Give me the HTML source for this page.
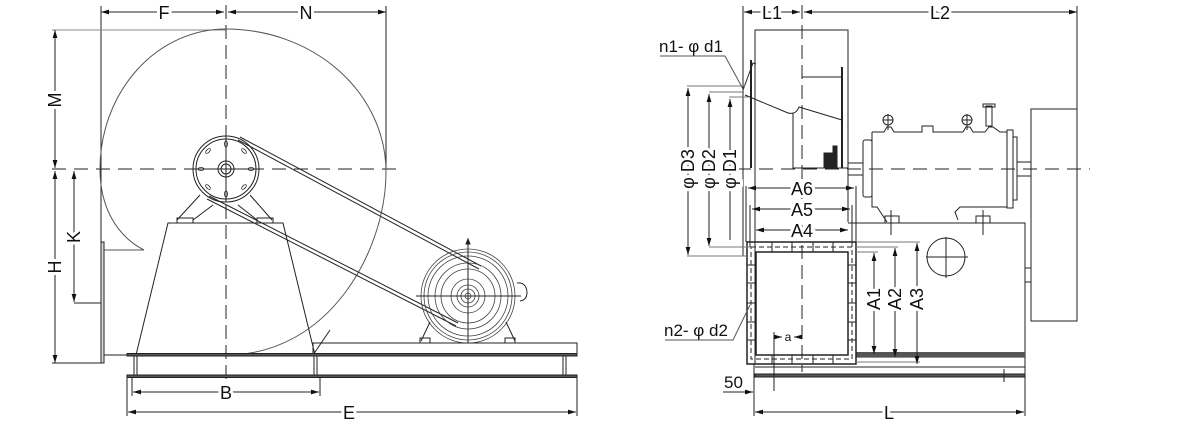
<!DOCTYPE html>
<html><head><meta charset="utf-8"><style>
html,body{margin:0;padding:0;background:#fff}
svg{display:block}
text{font-family:"Liberation Sans",sans-serif;font-size:18px;fill:#111}
</style></head><body>
<svg width="1182" height="442" viewBox="0 0 1182 442" xmlns="http://www.w3.org/2000/svg">
<defs>
<marker id="a" viewBox="0 0 10 6" refX="10" refY="3" markerWidth="8" markerHeight="5" orient="auto-start-reverse" markerUnits="userSpaceOnUse"><path d="M0,0L10,3L0,6z" fill="#111"/></marker>
</defs>
<g stroke="#222" stroke-width="1" fill="none">
<line x1="101" y1="6" x2="101" y2="245"/>
<line x1="386" y1="6" x2="386" y2="168"/>
<line x1="101" y1="12" x2="224" y2="12" marker-start="url(#a)" marker-end="url(#a)"/>
<line x1="228" y1="12" x2="386" y2="12" marker-start="url(#a)" marker-end="url(#a)"/>
<line x1="52" y1="30" x2="226" y2="30" stroke="#888"/>
<line x1="55" y1="30" x2="55" y2="168" marker-start="url(#a)" marker-end="url(#a)"/>
<line x1="55" y1="171" x2="55" y2="363" marker-start="url(#a)" marker-end="url(#a)"/>
<line x1="52" y1="363" x2="101" y2="363"/>
<line x1="74" y1="171" x2="74" y2="302" marker-start="url(#a)" marker-end="url(#a)"/>
<line x1="74" y1="303" x2="101" y2="303"/>
<line x1="52" y1="169" x2="402" y2="169" stroke-dasharray="14,8"/>
<line x1="226" y1="5" x2="226" y2="395" stroke-dasharray="14,6"/>
<path d="M226,29 A160,143 0 0 1 386,172 C386,250 330,355 226,355" stroke="#555"/>
<path d="M226,29 A126,140 0 0 0 100,169 C100,205 115,235 144,250 L104,250" stroke="#555"/>
<line x1="330" y1="330" x2="313" y2="355"/>
<rect x="101" y="242" width="3" height="121" fill="#ddd"/>
<line x1="104" y1="355" x2="127" y2="355"/>
<path d="M168,223 L283,223 L315,355 L136,355 Z"/>
<path d="M200,195 L177,220 M213,205 L193,220 M250,195 L272,220 M238,205 L257,220"/>
<rect x="177" y="218" width="16" height="5"/><rect x="257" y="218" width="16" height="5"/>
<circle cx="226" cy="169" r="33"/><circle cx="226" cy="169" r="30"/>
<circle cx="226" cy="169" r="8"/><circle cx="226" cy="169" r="5"/>
<line x1="226" y1="136" x2="226" y2="202"/><line x1="193" y1="169" x2="259" y2="169"/>
<g stroke-width="0.8">
<ellipse cx="226" cy="144" rx="1.5" ry="3"/><ellipse cx="226" cy="194" rx="1.5" ry="3"/>
<ellipse cx="201" cy="169" rx="3" ry="1.5"/><ellipse cx="251" cy="169" rx="3" ry="1.5"/>
<ellipse cx="208" cy="151" rx="1.5" ry="3" transform="rotate(45 208 151)"/><ellipse cx="244" cy="151" rx="1.5" ry="3" transform="rotate(-45 244 151)"/>
<ellipse cx="208" cy="187" rx="1.5" ry="3" transform="rotate(-45 208 187)"/><ellipse cx="244" cy="187" rx="1.5" ry="3" transform="rotate(45 244 187)"/>
</g>
<line x1="240" y1="137" x2="481" y2="266"/><line x1="238" y1="140" x2="479" y2="269"/>
<line x1="209" y1="196" x2="458" y2="323"/><line x1="207" y1="199" x2="456" y2="326"/>
<g stroke="#444" stroke-width="0.8">
<circle cx="468" cy="296" r="47"/><circle cx="468" cy="296" r="44"/><circle cx="468" cy="296" r="40"/>
<circle cx="468" cy="296" r="33"/><circle cx="468" cy="296" r="27"/><circle cx="468" cy="296" r="17"/>
<circle cx="468" cy="296" r="11"/><circle cx="468" cy="296" r="7"/><circle cx="468" cy="296" r="3"/>
</g>
<line x1="416" y1="296" x2="521" y2="296"/><line x1="468" y1="240" x2="468" y2="343"/>
<path d="M466,244 L468,239 L470,244 Z" fill="#222"/>
<path d="M517,283 Q526,282 527,292 Q527,300 520,301" />
<path d="M430,322 L421,341 M506,322 L515,341"/>
<rect x="420" y="338" width="10" height="5"/><rect x="505" y="338" width="10" height="5"/>
<rect x="313" y="343" width="264" height="11"/>
<rect x="127" y="353.5" width="450" height="2.5" fill="#555"/>
<rect x="134" y="356" width="3" height="20"/><rect x="314" y="356" width="3" height="20"/><rect x="563" y="356" width="3" height="20"/>
<rect x="127" y="375" width="450" height="2.5" fill="#555"/>
<line x1="132" y1="378" x2="132" y2="396"/><line x1="320" y1="378" x2="320" y2="396"/>
<line x1="133" y1="392" x2="319" y2="392" marker-start="url(#a)" marker-end="url(#a)"/>
<line x1="127" y1="378" x2="127" y2="416"/><line x1="577" y1="378" x2="577" y2="416"/>
<line x1="128" y1="412" x2="576" y2="412" marker-start="url(#a)" marker-end="url(#a)"/>

<line x1="743" y1="6" x2="743" y2="256"/>
<line x1="1077" y1="6" x2="1077" y2="109"/>
<line x1="744" y1="12" x2="800" y2="12" marker-start="url(#a)" marker-end="url(#a)"/>
<line x1="804" y1="12" x2="1077" y2="12" marker-start="url(#a)" marker-end="url(#a)"/>
<line x1="802" y1="5" x2="802" y2="372" stroke-dasharray="14,6"/>
<line x1="737" y1="169" x2="1090" y2="169" stroke-dasharray="14,8"/>
<path d="M755,364 L755,30 L848,30 L848,222"/>
<line x1="751" y1="60" x2="751" y2="168" stroke-width="2"/>
<path d="M743,90 L753,63 L756,64"/>
<path d="M745,95 L788,113 Q796,115 799,107 L842,120"/>
<path d="M793,113 L793,168 L848,168 M802,77 L842,77 M842,67 L842,168" />
<line x1="842" y1="67" x2="842" y2="168" stroke-width="2"/>
<rect x="824" y="153" width="10" height="14" fill="#222"/><rect x="833" y="146" width="4" height="21" fill="#222"/>
<path d="M848,163 L863,163 M848,175 L863,175 M1017,162 L1031,162 M1017,176 L1031,176"/>
<path d="M872,132 L884,132 L887,127 L891,127 L894,132 L922,132 L922,126 L933,126 L933,132 L963,132 L966,127 L970,127 L973,132 L985,132 L989,127 L993,127 L1000,132 L1007,132 L1007,207 L960,207 L955,212 L958,220 M872,132 L872,207 L877,207 L887,222"/>
<rect x="863" y="140" width="9" height="57" rx="2"/>
<rect x="1007" y="130" width="6" height="78"/><rect x="1013" y="137" width="4" height="63"/>
<circle cx="888" cy="120" r="5"/><circle cx="967" cy="120" r="5"/>
<path d="M883,120 L893,120 M888,114 L888,130 M962,120 L972,120 M967,114 L967,130"/>
<rect x="986" y="106" width="6" height="20"/><rect x="983" y="104" width="12" height="3"/>
<rect x="885" y="216" width="14" height="7"/><rect x="976" y="216" width="14" height="7"/>
<line x1="891" y1="210" x2="891" y2="235"/><line x1="983" y1="210" x2="983" y2="235"/>
<path d="M848,223 L1025,223 L1025,357 L856,357"/>
<rect x="856" y="352" width="169" height="5" fill="#555" stroke="none"/>
<rect x="1025" y="268" width="6" height="14"/>
<rect x="1031" y="109" width="46" height="212"/>
<circle cx="946" cy="257" r="19"/>
<path d="M926,257 L968,257 M946,237 L946,278"/>
<rect x="747" y="242" width="109" height="122" stroke-width="1.5"/>
<rect x="756" y="252" width="92" height="103" stroke-width="1.5"/>
<rect x="751" y="247" width="101" height="112" stroke-dasharray="5,3"/>
<path d="M772,242 L772,252 M792,242 L792,252 M813,242 L813,252 M833,242 L833,252 M772,355 L772,364 M792,355 L792,364 M813,355 L813,364 M833,355 L833,364 M747,265 L756,265 M747,283 L756,283 M747,303 L756,303 M747,322 L756,322 M747,340 L756,340 M848,265 L856,265 M848,283 L856,283 M848,303 L856,303 M848,322 L856,322 M848,340 L856,340"/>
<line x1="755" y1="367" x2="1025" y2="367"/>
<rect x="755" y="374" width="270" height="3" fill="#555"/>
<path d="M1004,369 L1004,382"/>
<line x1="746" y1="186" x2="746" y2="242"/><line x1="856" y1="186" x2="856" y2="242"/>
<line x1="750" y1="205" x2="750" y2="247"/><line x1="852" y1="205" x2="852" y2="247"/>
<line x1="748" y1="188" x2="854" y2="188" marker-start="url(#a)" marker-end="url(#a)"/>
<line x1="752" y1="209" x2="850" y2="209" marker-start="url(#a)" marker-end="url(#a)"/>
<line x1="756" y1="230" x2="848" y2="230" marker-start="url(#a)" marker-end="url(#a)"/>
<path d="M687,86 L745,86 M709,92 L744,92 M729,97 L748,97" stroke="#777"/>
<path d="M687,256 L746,256 M709,247 L750,247" stroke="#777"/>
<line x1="688" y1="255" x2="688" y2="88" marker-end="url(#a)" marker-start="url(#a)"/>
<line x1="709" y1="246" x2="709" y2="94" marker-end="url(#a)" marker-start="url(#a)"/>
<line x1="730" y1="240" x2="730" y2="99" marker-end="url(#a)"/>
<path d="M660,56 L725,56 L743,89" stroke="#555"/>
<path d="M665,340 L733,340 L750,305" stroke="#555"/>
<path d="M856,252 L878,252 M856,247 L898,247 M856,242 L920,242 M856,362 L920,362" stroke="#777"/>
<line x1="874" y1="253" x2="874" y2="354" marker-start="url(#a)" marker-end="url(#a)"/>
<line x1="895" y1="248" x2="895" y2="357" marker-start="url(#a)" marker-end="url(#a)"/>
<line x1="917" y1="243" x2="917" y2="364" marker-start="url(#a)" marker-end="url(#a)"/>
<line x1="774" y1="332" x2="774" y2="391"/>
<line x1="775" y1="337" x2="782" y2="337" marker-end="url(#a)"/>
<line x1="794" y1="337" x2="801" y2="337" marker-start="url(#a)"/>
<line x1="723" y1="392" x2="753" y2="392" marker-end="url(#a)"/>
<line x1="754" y1="364" x2="754" y2="416"/><line x1="1025" y1="357" x2="1025" y2="416"/>
<line x1="755" y1="412" x2="1024" y2="412" marker-start="url(#a)" marker-end="url(#a)"/>
</g>
<g text-anchor="middle">
<text x="164" y="19" style="paint-order:stroke" stroke="#fff" stroke-width="6">F</text>
<text x="306" y="19" style="paint-order:stroke" stroke="#fff" stroke-width="6">N</text>
<text x="55" y="106" transform="rotate(-90 55 100)" style="paint-order:stroke" stroke="#fff" stroke-width="6">M</text>
<text x="55" y="273" transform="rotate(-90 55 267)" style="paint-order:stroke" stroke="#fff" stroke-width="6">H</text>
<text x="74" y="243" transform="rotate(-90 74 237)" style="paint-order:stroke" stroke="#fff" stroke-width="6">K</text>
<text x="226" y="399" style="paint-order:stroke" stroke="#fff" stroke-width="6">B</text>
<text x="349" y="419" style="paint-order:stroke" stroke="#fff" stroke-width="6">E</text>
<text x="772" y="19" style="paint-order:stroke" stroke="#fff" stroke-width="6">L1</text>
<text x="940" y="19" style="paint-order:stroke" stroke="#fff" stroke-width="6">L2</text>
<text x="802" y="195" style="paint-order:stroke" stroke="#fff" stroke-width="6">A6</text>
<text x="802" y="216" style="paint-order:stroke" stroke="#fff" stroke-width="6">A5</text>
<text x="802" y="237" style="paint-order:stroke" stroke="#fff" stroke-width="6">A4</text>
<text x="688" y="175" transform="rotate(-90 688 169)" style="paint-order:stroke" stroke="#fff" stroke-width="6">φ D3</text>
<text x="709" y="175" transform="rotate(-90 709 169)" style="paint-order:stroke" stroke="#fff" stroke-width="6">φ D2</text>
<text x="730" y="175" transform="rotate(-90 730 169)" style="paint-order:stroke" stroke="#fff" stroke-width="6">φ D1</text>
<text x="874" y="305" transform="rotate(-90 874 299)" style="paint-order:stroke" stroke="#fff" stroke-width="6">A1</text>
<text x="895" y="305" transform="rotate(-90 895 299)" style="paint-order:stroke" stroke="#fff" stroke-width="6">A2</text>
<text x="917" y="305" transform="rotate(-90 917 299)" style="paint-order:stroke" stroke="#fff" stroke-width="6">A3</text>
<text x="788" y="341" style="font-size:12px">a</text>
<text x="889" y="419" style="paint-order:stroke" stroke="#fff" stroke-width="6">L</text>
</g>
<text x="659" y="52" style="font-size:17px">n1- φ d1</text>
<text x="664" y="336" style="font-size:17px">n2- φ d2</text>
<text x="724" y="388" style="font-size:17px">50</text>
</svg>
</body></html>
